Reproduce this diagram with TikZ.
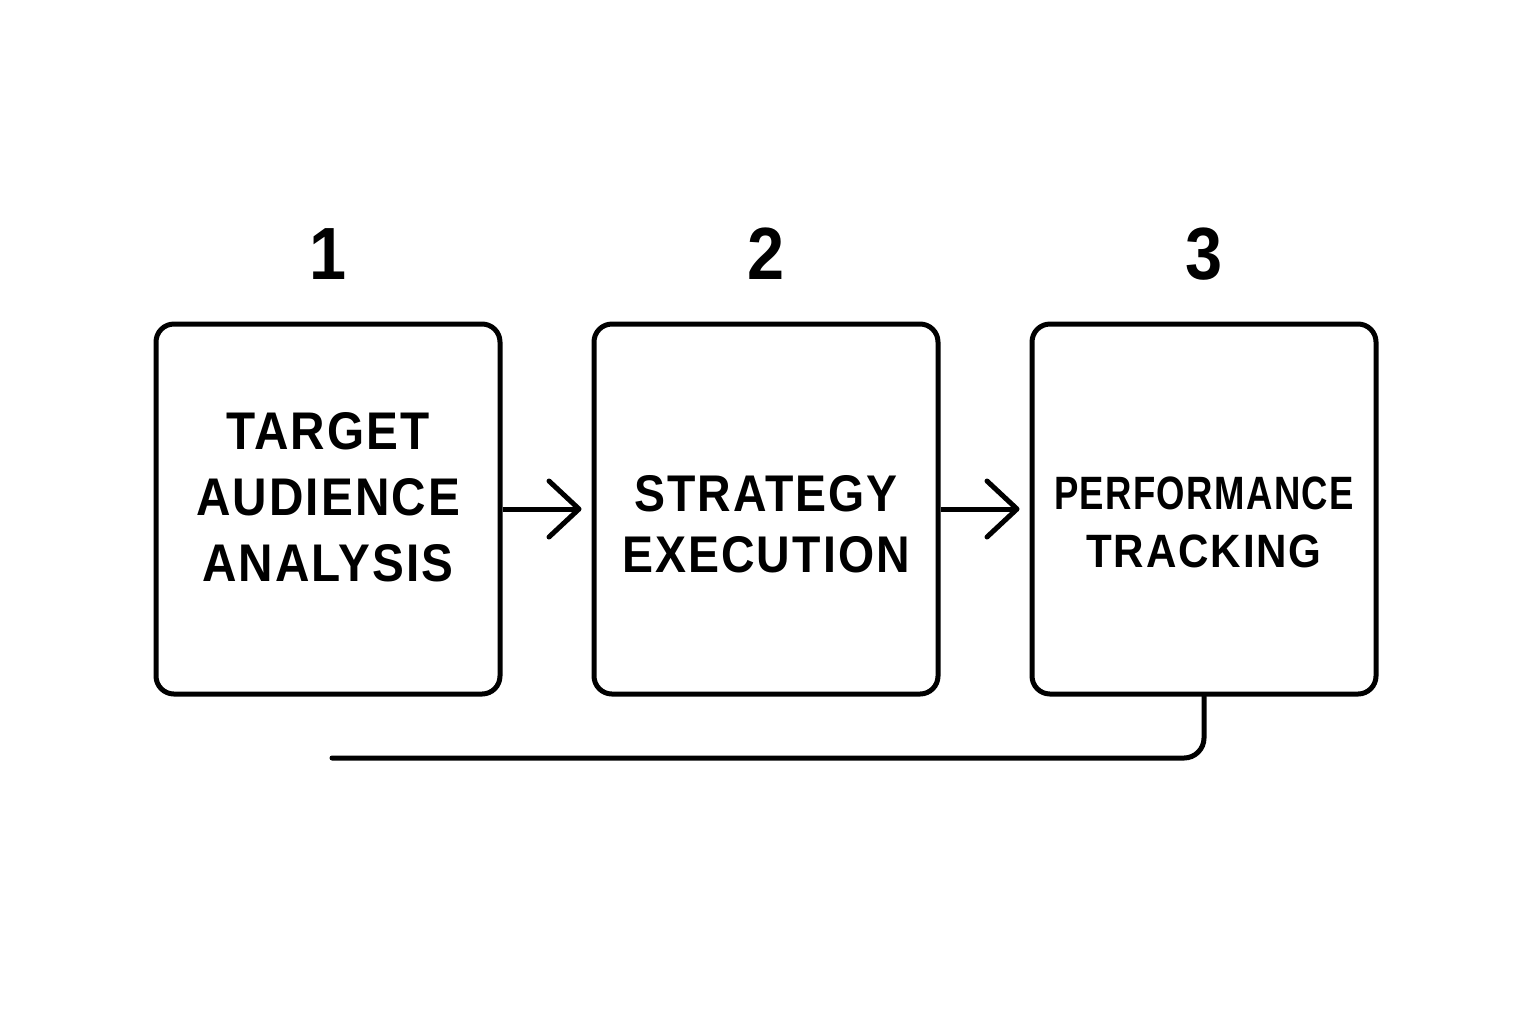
\documentclass[tikz,border=0pt]{standalone}
\usepackage{fontspec}
\setmainfont{Liberation Sans}[FakeStretch=0.9, LetterSpace=4]
\newfontfamily\narrowfont{Liberation Sans}[FakeStretch=0.78, LetterSpace=3]
\usetikzlibrary{positioning, arrows.meta}

\begin{document}
\begin{tikzpicture}[x=0.5pt, y=-0.5pt, line width=2.5pt, node distance=219pt, on grid,
  stage/.style={draw, rounded corners=9pt, minimum width=172pt, minimum height=185pt},
  num/.style={font=\fontsize{37}{37}\selectfont\bfseries},
  caption/.style={align=center, inner sep=0pt},
  flow/.style={-{Straight Barb[length=15pt, width=28pt, round]}, shorten >=5pt}]
  \useasboundingbox (0,0) rectangle (1536,1024);
  % the three stages
  \node[stage] (b1) at (328,509) {};
  \node[stage] (b2) [right=of b1] {};
  \node[stage] (b3) [right=of b2] {};
  % step numbers
  \node[num] (n1) [above=127.5pt of b1] {1};
  \node[num] (n2) [above=127.5pt of b2] {2};
  \node[num] (n3) [above=127.5pt of b3] {3};
  % box texts
  \node[caption, font=\fontsize{26.5}{33}\selectfont\bfseries] (t1) at ([yshift=6pt]b1.center)
    {TARGET\\AUDIENCE\\ANALYSIS};
  \node[caption, font=\fontsize{25.8}{30.5}\selectfont\bfseries] (t2) at ([yshift=-7.5pt]b2.center)
    {STRATEGY\\EXECUTION};
  \node[caption, font=\fontsize{23.4}{29}\selectfont\bfseries] (t3) at ([yshift=-6.5pt]b3.center)
    {{\narrowfont PERFORMANCE}\\TRACKING};
  % connectors
  \draw[flow] (b1) -- (b2);
  \draw[flow] (b2) -- (b3);
  \coordinate (fb) at (332,758);
  \draw[rounded corners=10pt, line cap=round] (b3.south) |- (fb);
\end{tikzpicture}
\end{document}
